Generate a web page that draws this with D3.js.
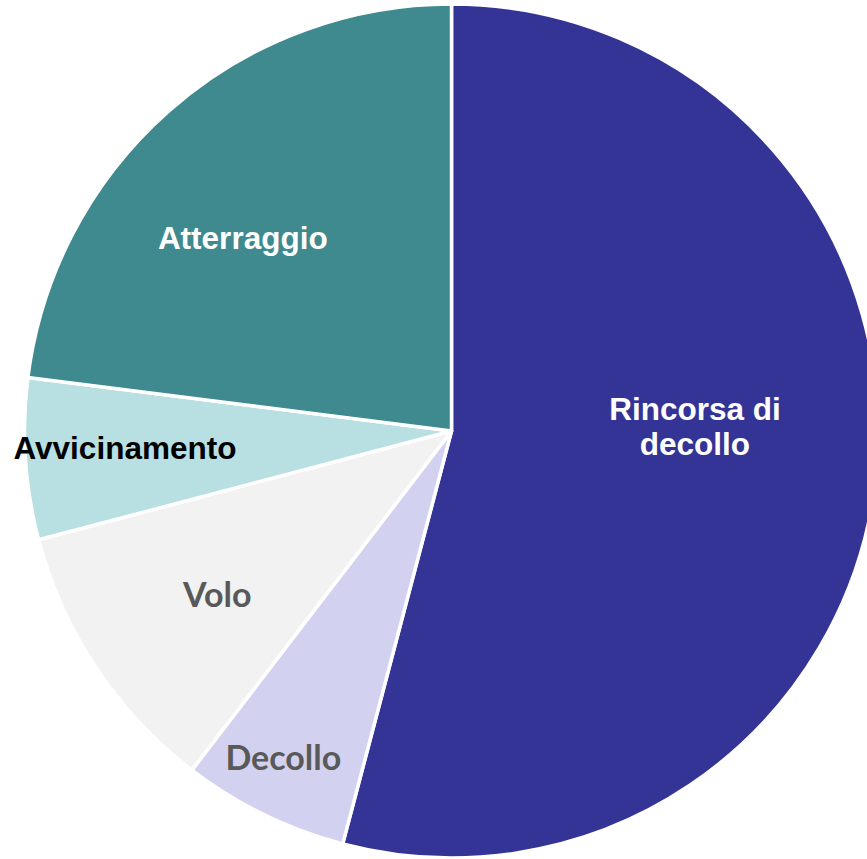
<!DOCTYPE html>
<html>
<head>
<meta charset="utf-8">
<script src="https://cdn.jsdelivr.net/npm/d3@7"></script>
<style>
html,body{margin:0;padding:0;background:#fff;overflow:hidden;}
svg{display:block;}
</style>
</head>
<body>
<svg id="chart" width="867" height="859"></svg>
<script>
// Data (percent share of each flight phase)
const categories = ["Rincorsa di decollo", "Decollo", "Volo", "Avvicinamento", "Atterraggio"];
const values = [54.1, 6.3, 10.5, 6.1, 23.0];
const colors = ["#343496", "#d2d2f0", "#f2f2f2", "#b8dfe2", "#3e8a8f"];

// Label styling / layout (not data)
const labelLines = [["Rincorsa di", "decollo"], ["Decollo"], ["Volo"], ["Avvicinamento"], ["Atterraggio"]];
const labelColor = ["#ffffff", "#595959", "#595959", "#000000", "#ffffff"];
const labelFont = ["arial", "calibri", "calibri", "arial", "arial"];
// label anchor as (angle in degrees clockwise from top, distance from center)
const labelPolar = [[88.8, 243.5], [207.2, 368], [235.0, 286], [267.0, 327], [312.8, 284.5]];

const W = 867, H = 859;
const cx = 451.5, cy = 431, R = 427;

const svg = d3.select("#chart");
const g = svg.append("g").attr("transform", `translate(${cx},${cy})`);

const pie = d3.pie().sort(null).value(d => d.v).startAngle(0).endAngle(2 * Math.PI);
const data = categories.map((c, i) => ({c, v: values[i], i}));
const arcs = pie(data);
const arc = d3.arc().innerRadius(0).outerRadius(R);

g.selectAll("path.slice").data(arcs).enter().append("path")
  .attr("class", "slice")
  .attr("d", arc)
  .attr("fill", d => colors[d.data.i])
  .attr("stroke", "#ffffff")
  .attr("stroke-width", 3.5)
  .attr("stroke-linejoin", "round");

const fonts = {
  arial: {family: "'Liberation Sans', Arial, sans-serif", size: 31.5, lh: 35},
  calibri: {family: "Lato, 'Open Sans', sans-serif", size: 34, lh: 38}
};

arcs.forEach((a, i) => {
  const [deg, dist] = labelPolar[i];
  const t = deg * Math.PI / 180;
  const x = Math.sin(t) * dist, y = -Math.cos(t) * dist;
  const f = fonts[labelFont[i]];
  const lines = labelLines[i];
  const text = g.append("text")
    .attr("text-anchor", "middle")
    .attr("font-family", f.family)
    .attr("font-weight", "bold")
    .attr("font-size", f.size)
    .attr("fill", labelColor[i]);
  const n = lines.length;
  lines.forEach((ln, k) => {
    const yy = y + (k - (n - 1) / 2) * f.lh + f.size * 0.358;
    text.append("tspan").attr("x", x).attr("y", yy).text(ln);
  });
});
</script>
</body>
</html>
